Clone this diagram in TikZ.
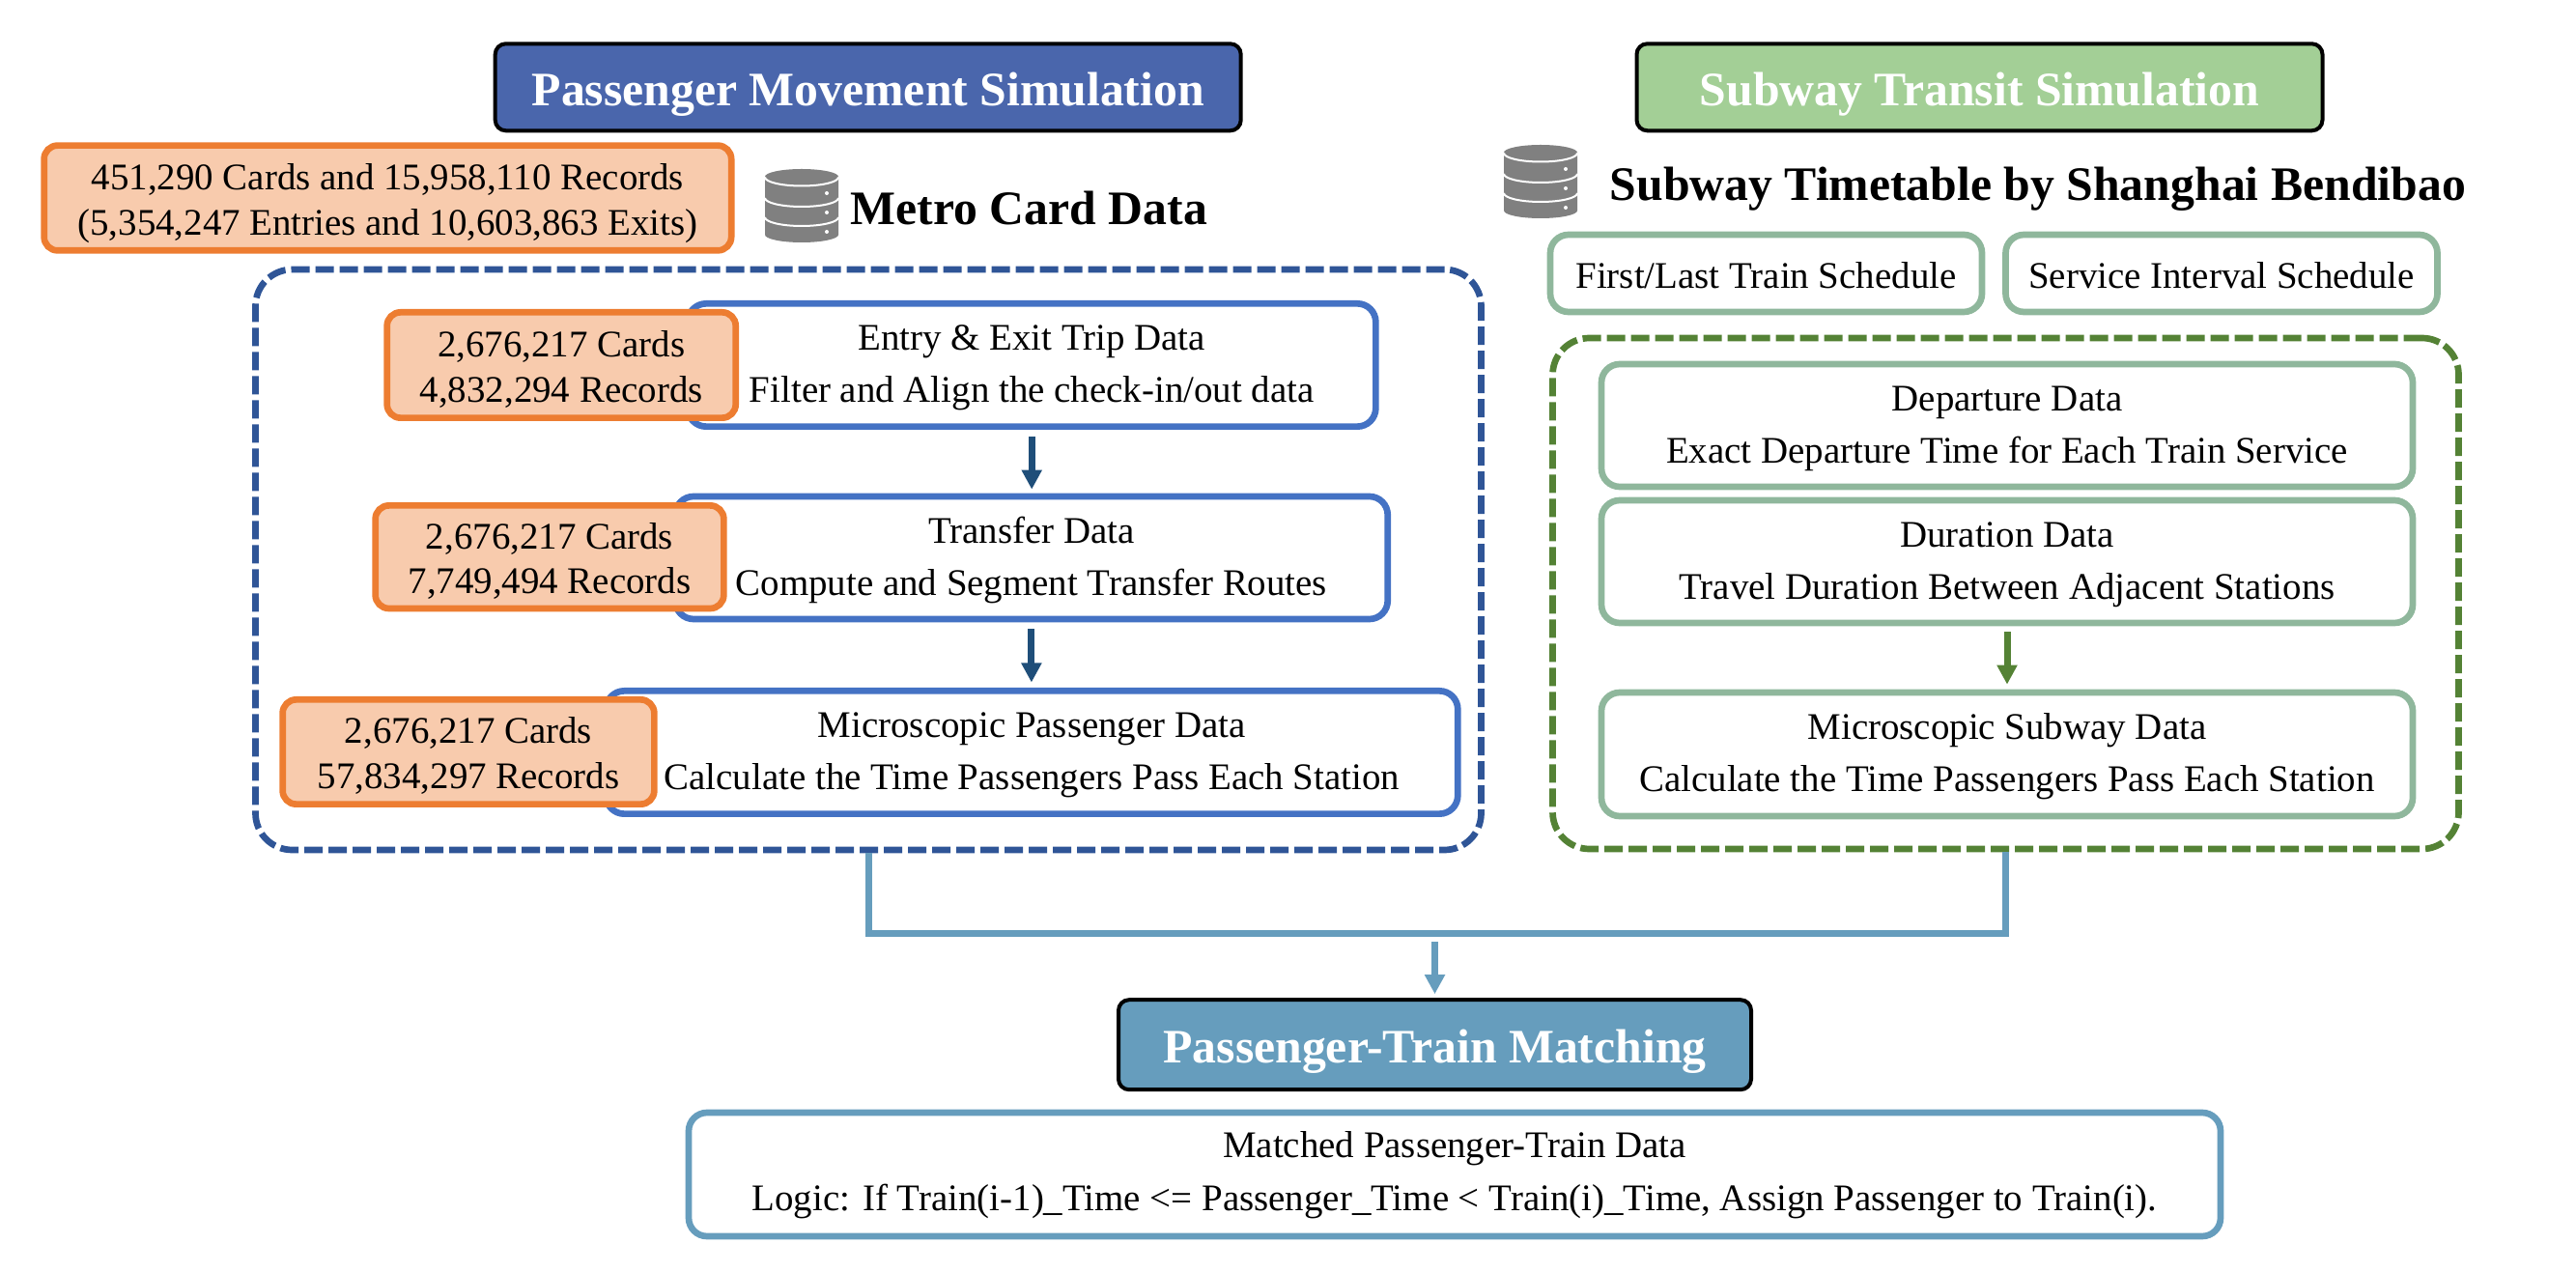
\documentclass[tikz,border=0pt]{standalone}
\usepackage{fontspec}
\setmainfont{Liberation Serif}
\usetikzlibrary{arrows.meta}

\definecolor{titleblue}{HTML}{4A66AC}
\definecolor{titlegreen}{HTML}{A3CF96}
\definecolor{titleteal}{HTML}{669DBD}
\definecolor{cardorange}{HTML}{ED7D31}
\definecolor{cardfill}{HTML}{F8CBAD}
\definecolor{stepblue}{HTML}{4472C4}
\definecolor{stepgreen}{HTML}{8FB79C}
\definecolor{groupblue}{HTML}{2F5597}
\definecolor{groupgreen}{HTML}{548235}
\definecolor{arrowblue}{HTML}{1F4E79}
\definecolor{dbgray}{HTML}{808080}

\tikzset{
    titlebox/.style={draw=black,line width=0.04cm,rounded corners=0.11cm,text=white,inner sep=0,text height=0.49cm,text depth=0.11cm,font=\fontsize{14.15}{17}\selectfont\bfseries},
    headline/.style={anchor=base west,inner sep=0,font=\fontsize{14.15}{17}\selectfont\bfseries},
    cardbox/.style={draw=cardorange,fill=cardfill,line width=0.067cm,rounded corners=0.14cm,inner sep=0,align=center,text height=0.825cm,text depth=0.06cm,font=\fontsize{11.07}{13.35}\selectfont},
    databox/.style={draw=#1,fill=white,line width=0.067cm,rounded corners=0.19cm,inner sep=0,align=center,text height=0.835cm,text depth=0.06cm,font=\fontsize{11.07}{15.4}\selectfont},
    oneline/.style={text height=0.42cm,text depth=0.11cm},
    groupbox/.style={draw=#1,line width=0.067cm,rounded corners=0.38cm,dash pattern=on 0.19cm off 0.06cm},
    flow/.style={draw=#1,line width=0.07cm,-{Triangle[length=0.2cm,width=0.2cm]}},
    dbicon/.pic={
        \fill[dbgray] (0,-0.08) arc[start angle=180,end angle=0,x radius=0.38,y radius=0.08] -- (0.76,-0.68) arc[start angle=0,end angle=-180,x radius=0.38,y radius=0.08] -- cycle;
        \foreach \yy in {-0.085,-0.30,-0.50} {
            \draw[white,line width=0.02cm] (0,\yy) arc[start angle=180,end angle=360,x radius=0.38,y radius=0.09];
        }
        \foreach \yy in {-0.25,-0.45,-0.65} {
            \fill[white] (0.64,\yy) circle (0.02);
        }
    }
}

\begin{document}
\begin{tikzpicture}
    \useasboundingbox (0,0) rectangle (26.67,-13.17);

    % dashed groups
    \node (gp) at (8.99,-5.795) [groupbox=groupblue,minimum width=12.69cm,minimum height=6.01cm]{};
    \node (gs) at (20.765,-6.145) [groupbox=groupgreen,minimum width=9.38cm,minimum height=5.29cm]{};

    % titles
    \node (tp) at (8.987,-0.903) [titlebox,fill=titleblue,minimum width=7.72cm,minimum height=0.90cm] {Passenger Movement Simulation};
    \node (ts) at (20.495,-0.903) [titlebox,fill=titlegreen,minimum width=7.10cm,minimum height=0.90cm] {Subway Transit Simulation};
    \node (tm) at (14.855,-10.817) [titlebox,fill=titleteal,minimum width=6.55cm,minimum height=0.93cm] {Passenger-Train Matching};

    % data sources
    \node (c0) at (4.014,-2.05) [cardbox,minimum width=7.115cm,minimum height=1.087cm] {451,290 Cards and 15,958,110 Records\\(5,354,247 Entries and 10,603,863 Exits)};
    \pic at (7.92,-1.75) {dbicon};
    \node (h1) at (8.80,-2.325) [headline] {Metro Card Data};
    \pic at (15.57,-1.50) {dbicon};
    \node (h2) at (16.66,-2.075) [headline] {Subway Timetable by Shanghai Bendibao};

    % passenger side
    \node (d1) at (10.682,-3.78) [databox=stepblue,minimum width=7.123cm,minimum height=1.273cm] {Entry \& Exit Trip Data\\Filter and Align the check-in/out data};
    \node (d2) at (10.679,-5.775) [databox=stepblue,minimum width=7.376cm,minimum height=1.27cm] {Transfer Data\\Compute and Segment Transfer Routes};
    \node (d3) at (10.683,-7.79) [databox=stepblue,minimum width=8.82cm,minimum height=1.273cm] {Microscopic Passenger Data\\Calculate the Time Passengers Pass Each Station};

    \node (c1) at (5.812,-3.78) [cardbox,minimum width=3.61cm,minimum height=1.093cm] {2,676,217 Cards\\4,832,294 Records};
    \node (c2) at (5.69,-5.767) [cardbox,minimum width=3.607cm,minimum height=1.066cm] {2,676,217 Cards\\7,749,494 Records};
    \node (c3) at (4.85,-7.785) [cardbox,minimum width=3.847cm,minimum height=1.083cm] {2,676,217 Cards\\57,834,297 Records};

    % subway side
    \node (s1) at (18.285,-2.83) [databox=stepgreen,oneline,minimum width=4.47cm,minimum height=0.80cm] {First/Last Train Schedule};
    \node (s2) at (23.00,-2.83) [databox=stepgreen,oneline,minimum width=4.47cm,minimum height=0.80cm] {Service Interval Schedule};
    \node (s3) at (20.78,-4.405) [databox=stepgreen,minimum width=8.40cm,minimum height=1.27cm] {Departure Data\\Exact Departure Time for Each Train Service};
    \node (s4) at (20.78,-5.815) [databox=stepgreen,minimum width=8.40cm,minimum height=1.27cm] {Duration Data\\Travel Duration Between Adjacent Stations};
    \node (s5) at (20.78,-7.81) [databox=stepgreen,minimum width=8.40cm,minimum height=1.28cm] {Microscopic Subway Data\\Calculate the Time Passengers Pass Each Station};

    % matching result
    \node (r1) at (15.06,-12.16) [databox=titleteal,text height=0.80cm,minimum width=15.86cm,minimum height=1.28cm] {Matched Passenger-Train Data\\Logic: If Train(i-1)\_Time <= Passenger\_Time < Train(i)\_Time, Assign Passenger to Train(i).};

    % arrows
    \draw [flow=arrowblue] ([yshift=-0.07cm]d1.south) -- ([yshift=0.04cm]d1.south |- d2.north);
    \draw [flow=arrowblue] ([yshift=-0.07cm]d2.south) -- ([yshift=0.055cm]d2.south |- d3.north);
    \draw [flow=groupgreen] ([yshift=-0.06cm]s4.south) -- ([yshift=0.05cm]s5.north);

    \coordinate (jn) at (14.855,-9.667);
    \draw [draw=titleteal,line width=0.07cm] (gp.south) |- (jn) -| (gs.south);
    \draw [flow=titleteal] ([yshift=-0.083cm]jn) -- ([yshift=0.04cm]tm.north);
\end{tikzpicture}
\end{document}
